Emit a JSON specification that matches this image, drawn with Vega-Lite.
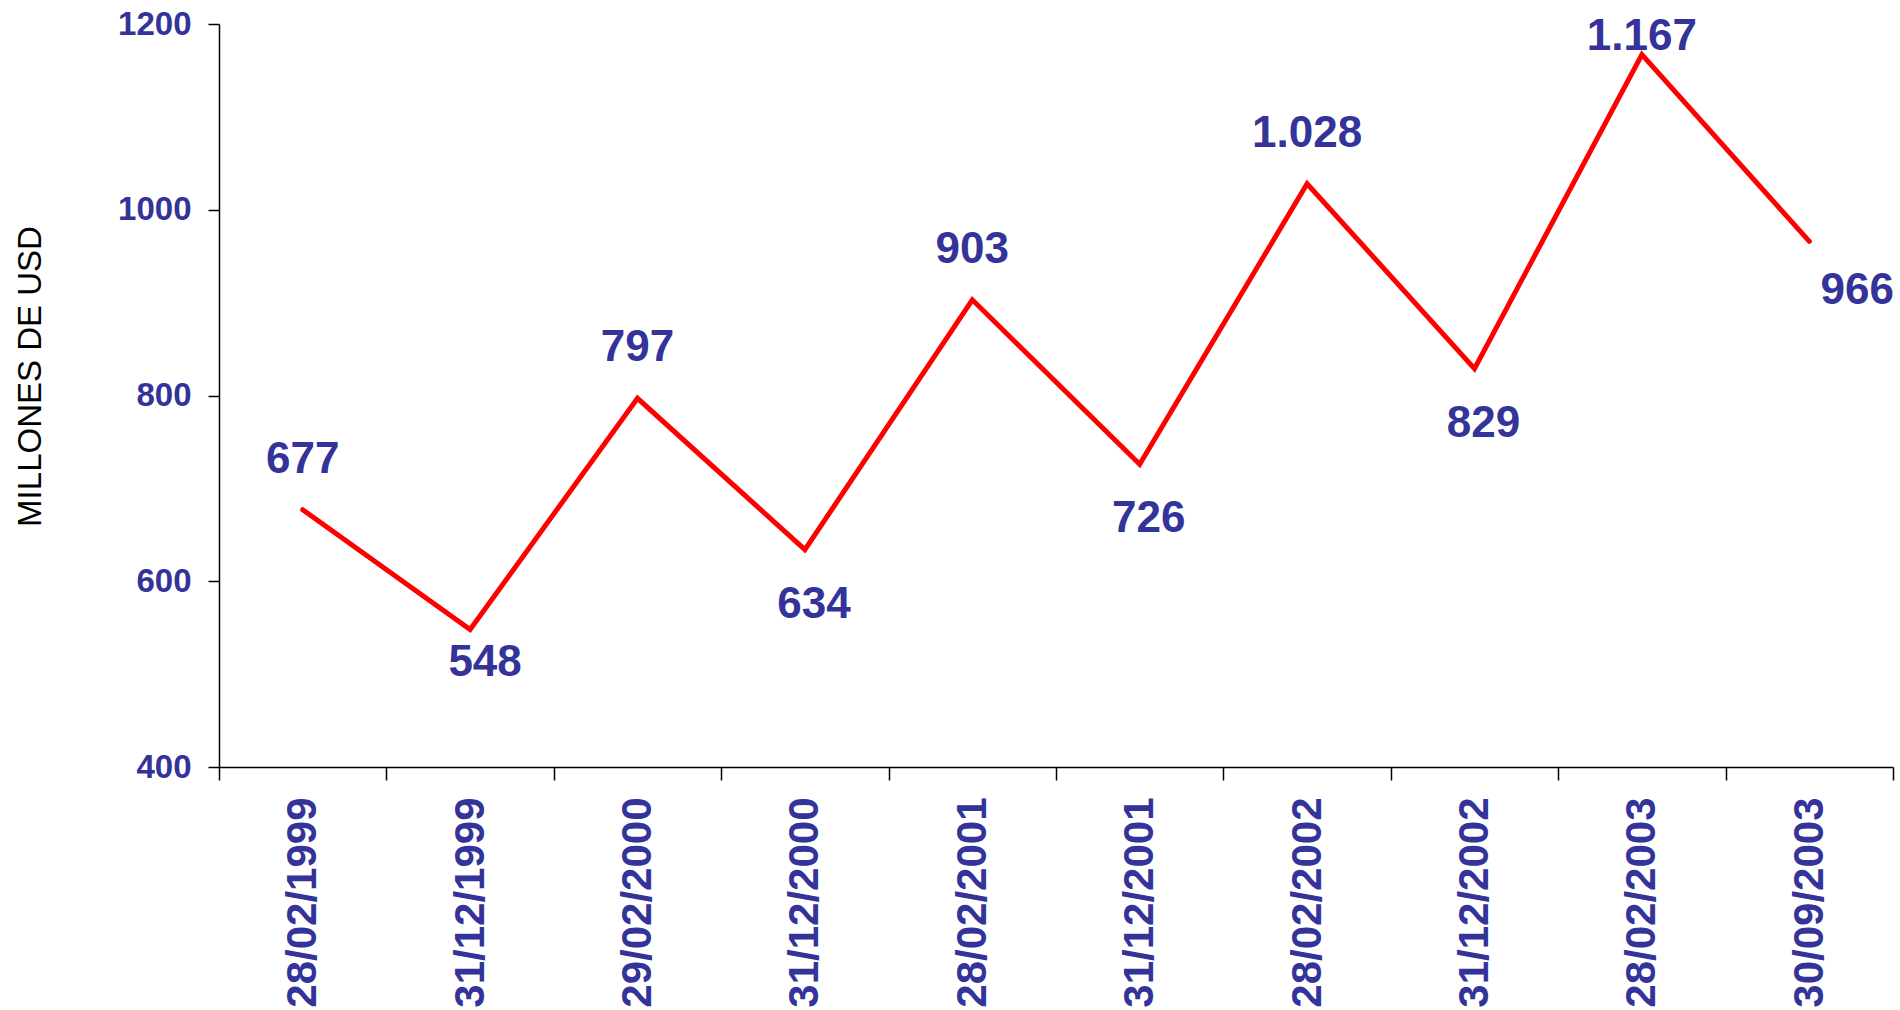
{
  "$schema": "https://vega.github.io/schema/vega-lite/v6.json",
  "autosize": "none",
  "width": 1674,
  "height": 743,
  "padding": {"left": 219, "top": 24, "right": 7, "bottom": 243},
  "background": "white",
  "config": {
    "view": {"stroke": null},
    "locale": {"number": {"decimal": ",", "thousands": ".", "grouping": [3], "currency": ["$", ""]}},
    "font": "Liberation Sans"
  },
  "data": {
    "values": [
      {"fecha": "28/02/1999", "valor": 677},
      {"fecha": "31/12/1999", "valor": 548},
      {"fecha": "29/02/2000", "valor": 797},
      {"fecha": "31/12/2000", "valor": 634},
      {"fecha": "28/02/2001", "valor": 903},
      {"fecha": "31/12/2001", "valor": 726},
      {"fecha": "28/02/2002", "valor": 1028},
      {"fecha": "31/12/2002", "valor": 829},
      {"fecha": "28/02/2003", "valor": 1167},
      {"fecha": "30/09/2003", "valor": 966}
    ]
  },
  "encoding": {
    "x": {
      "field": "fecha",
      "type": "nominal",
      "sort": null,
      "scale": {"type": "band", "paddingInner": 0, "paddingOuter": 0},
      "axis": {
        "title": null,
        "tickBand": "extent",
        "domainColor": "black",
        "domainWidth": 1.5,
        "tickColor": "black",
        "tickWidth": 1.5,
        "tickSize": 13,
        "labelAngle": -90,
        "labelAlign": "right",
        "labelBaseline": "middle",
        "labelPadding": 17,
        "labelFont": "Liberation Sans",
        "labelFontSize": 42,
        "labelFontWeight": "bold",
        "labelColor": "#333399",
        "labelOverlap": false,
        "labelLimit": 0
      }
    },
    "y": {
      "field": "valor",
      "type": "quantitative",
      "scale": {"domain": [400, 1200], "nice": false, "zero": false},
      "axis": {
        "title": "MILLONES DE USD",
        "values": [400, 600, 800, 1000, 1200],
        "format": "d",
        "grid": false,
        "domainColor": "black",
        "domainWidth": 1.5,
        "tickColor": "black",
        "tickWidth": 1.5,
        "tickSize": 11,
        "labelPadding": 17,
        "labelFont": "Liberation Sans",
        "labelFontSize": 33,
        "labelFontWeight": "bold",
        "labelColor": "#333399",
        "titleFont": "Liberation Sans",
        "titleFontSize": 33,
        "titleFontWeight": "normal",
        "titleColor": "black",
        "titleAngle": -90,
        "titleAlign": "center",
        "titleBaseline": "middle",
        "titleX": -189,
        "titleY": 352
      }
    }
  },
  "layer": [
    {
      "mark": {"type": "line", "color": "#FF0000", "strokeWidth": 5, "strokeCap": "round", "strokeJoin": "miter"}
    },
    {
      "transform": [{"filter": {"field": "fecha", "oneOf": ["28/02/1999", "29/02/2000", "28/02/2001", "28/02/2002"]}}],
      "mark": {"type": "text", "font": "Liberation Sans", "fontSize": 44, "fontWeight": "bold", "color": "#333399", "baseline": "alphabetic", "align": "center", "dy": -37},
      "encoding": {"text": {"field": "valor", "type": "quantitative", "format": ",d"}}
    },
    {
      "transform": [{"filter": {"field": "fecha", "oneOf": ["31/12/2000", "31/12/2001", "31/12/2002"]}}],
      "mark": {"type": "text", "font": "Liberation Sans", "fontSize": 44, "fontWeight": "bold", "color": "#333399", "baseline": "alphabetic", "align": "center", "dy": 68, "dx": 9},
      "encoding": {"text": {"field": "valor", "type": "quantitative", "format": ",d"}}
    },
    {
      "transform": [{"filter": {"field": "fecha", "equal": "31/12/1999"}}],
      "mark": {"type": "text", "font": "Liberation Sans", "fontSize": 44, "fontWeight": "bold", "color": "#333399", "baseline": "alphabetic", "align": "center", "dy": 46, "dx": 15},
      "encoding": {"text": {"field": "valor", "type": "quantitative", "format": ",d"}}
    },
    {
      "transform": [{"filter": {"field": "fecha", "equal": "28/02/2003"}}],
      "mark": {"type": "text", "font": "Liberation Sans", "fontSize": 44, "fontWeight": "bold", "color": "#333399", "baseline": "alphabetic", "align": "center", "dy": -5},
      "encoding": {"text": {"field": "valor", "type": "quantitative", "format": ",d"}}
    },
    {
      "transform": [{"filter": {"field": "fecha", "equal": "30/09/2003"}}],
      "mark": {"type": "text", "font": "Liberation Sans", "fontSize": 44, "fontWeight": "bold", "color": "#333399", "baseline": "alphabetic", "align": "center", "dy": 63, "dx": 48},
      "encoding": {"text": {"field": "valor", "type": "quantitative", "format": ",d"}}
    }
  ]
}
